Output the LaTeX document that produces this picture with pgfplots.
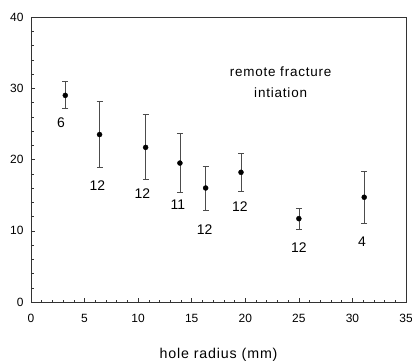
\documentclass[border=0pt]{standalone}
\usepackage{pgfplots}
\pgfplotsset{compat=1.18}
\usepackage{fontspec}
\setmainfont{Liberation Sans}
\newfontfamily\lsp[LetterSpace=6]{Liberation Sans}
\begin{document}
\begin{tikzpicture}
\useasboundingbox (-31bp,-62bp) rectangle (381bp,302bp);
\begin{axis}[
  at={(0,0)}, anchor=south west,
  scale only axis,
  width=375bp, height=285bp,
  xmin=0, xmax=35, ymin=0, ymax=40,
  xtick={0,5,...,35}, ytick={0,10,...,40},
  minor x tick num=4, minor y tick num=4,
  xtick pos=left, ytick pos=left,
  tick align=inside,
  major tick length=4bp, minor tick length=2.5bp,
  tick style={black!80, line width=0.5pt},
  axis line style={line width=0.7pt, black!80},
  /pgf/number format/assume math mode=true,
  ticklabel style={font=\fontsize{12}{14}\selectfont},
  xticklabel style={yshift=-9bp},
  yticklabel style={xshift=-4bp},
  xlabel={\lsp hole radius (mm)},
  xlabel style={font=\fontsize{14.3}{16}\selectfont, at={(axis description cs:0.5,0)}, anchor=center, yshift=-53bp},
]
\addplot[only marks, mark=*, mark size=2.5bp, black,
  error bars/.cd, y dir=both, y explicit,
  error bar style={line width=0.6pt, black!70},
  error mark options={rotate=90, mark size=3bp, line width=0.6pt, black!70}]
  table[x=x, y=y, y error plus=ep, y error minus=em] {
x     y     ep    em
3.2   29.0  2.0   1.8
6.4   23.5  4.6   4.6
10.7  21.7  4.6   4.5
13.9  19.5  4.2   4.1
16.3  16.0  3.0   3.1
19.6  18.2  2.7   2.6
25.0  11.7  1.4   1.5
31.1  14.7  3.7   3.7
};
\node[font=\fontsize{14}{16}\selectfont] at (axis cs:2.8,25.1) {6};
\node[font=\fontsize{14}{16}\selectfont] at (axis cs:6.2,16.4) {12};
\node[font=\fontsize{14}{16}\selectfont] at (axis cs:10.4,15.2) {12};
\node[font=\fontsize{14}{16}\selectfont] at (axis cs:13.7,13.6) {11};
\node[font=\fontsize{14}{16}\selectfont] at (axis cs:16.2,10.1) {12};
\node[font=\fontsize{14}{16}\selectfont] at (axis cs:19.5,13.4) {12};
\node[font=\fontsize{14}{16}\selectfont] at (axis cs:25.0,7.7) {12};
\node[font=\fontsize{14}{16}\selectfont] at (axis cs:30.9,8.5) {4};
\node[font=\fontsize{13.5}{21.5}\selectfont\lsp, align=center] at (axis cs:23.3,30.85) {remote fracture\\intiation};
\end{axis}
\end{tikzpicture}
\end{document}
